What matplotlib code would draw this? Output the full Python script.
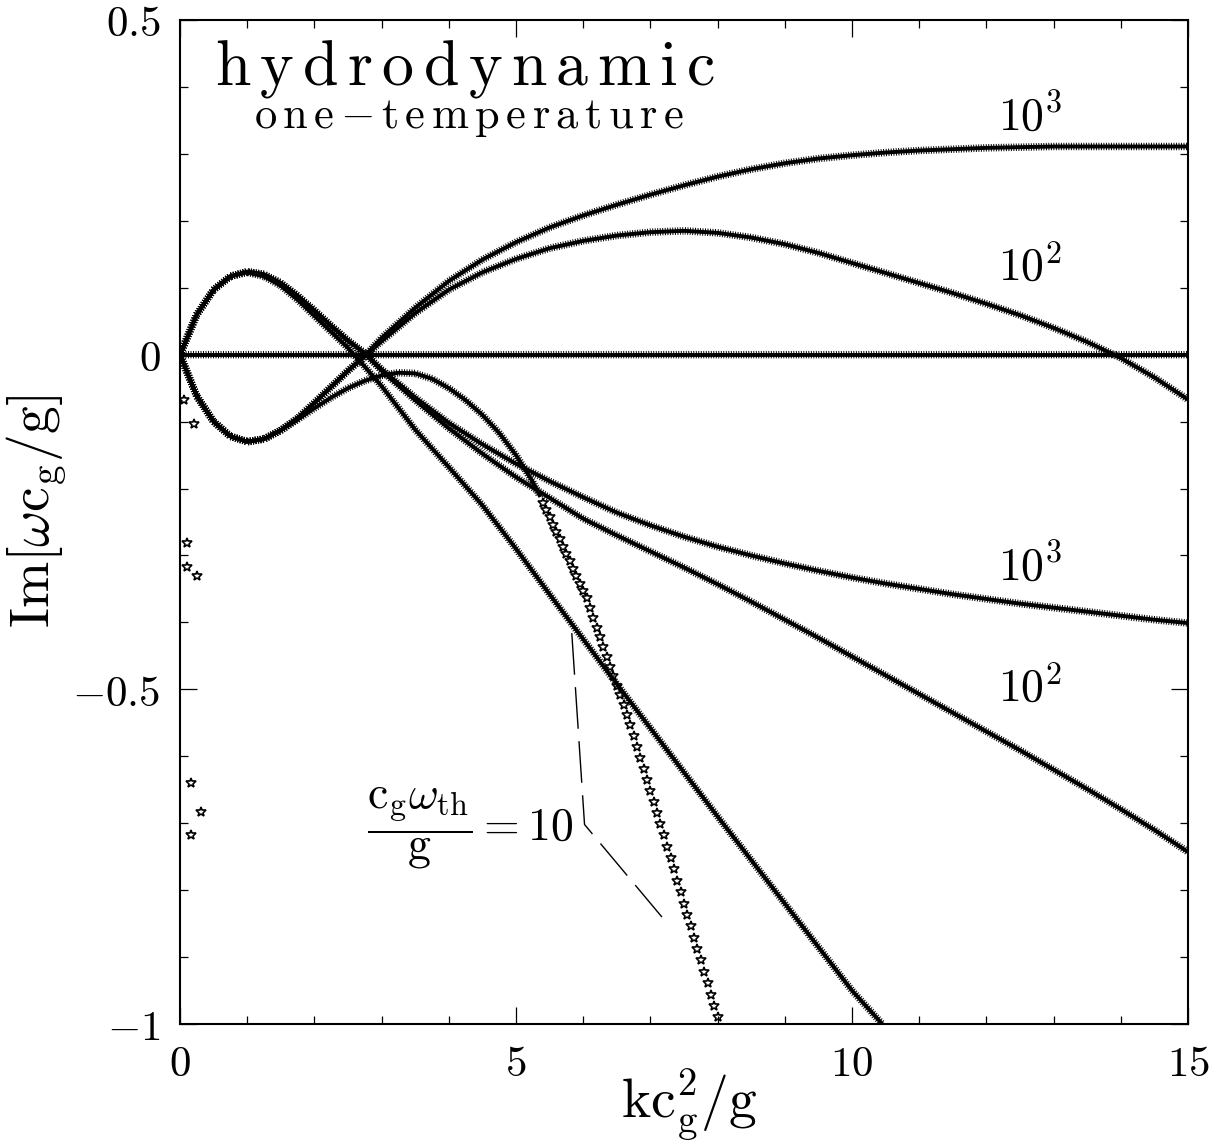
import matplotlib.pyplot as plt
import matplotlib.patheffects as pe
from matplotlib.ticker import MultipleLocator

plt.rcParams['mathtext.fontset'] = 'cm'
plt.rcParams['font.family'] = ['DejaVu Serif']

# loops near k = 0, shared by the 10^2 and 10^3 branches
k_loop = [0.0, 0.25, 0.5, 0.75, 1.0, 1.25, 1.5, 1.75, 2.0, 2.25, 2.5, 2.75]
im_loop_upper = [0.0, 0.06, 0.097, 0.117, 0.124, 0.12, 0.107, 0.088, 0.066, 0.043, 0.021, 0.002]
im_loop_lower = [0.0, -0.062, -0.1, -0.122, -0.13, -0.126, -0.113, -0.095, -0.072, -0.048, -0.024, -0.002]

# branches past the crossing at k ~ 2.8
k_tail = [3.0, 3.5, 4.0, 4.5, 5.0, 5.5, 6.0, 6.5, 7.0, 7.5, 8.0, 8.5, 9.0, 9.5,
          10.0, 10.5, 11.0, 11.5, 12.0, 12.5, 13.0, 13.5, 14.0, 14.5, 15.0]
im_1e3_rise = [0.025, 0.07, 0.11, 0.142, 0.168, 0.19, 0.208, 0.224, 0.239, 0.253, 0.266, 0.277, 0.286,
               0.293, 0.298, 0.302, 0.305, 0.307, 0.309, 0.31, 0.311, 0.311, 0.311, 0.311, 0.311]
im_1e2_rise = [0.02, 0.062, 0.097, 0.123, 0.143, 0.159, 0.17, 0.178, 0.183, 0.185, 0.182, 0.175, 0.165,
               0.152, 0.137, 0.122, 0.107, 0.092, 0.076, 0.059, 0.04, 0.019, -0.005, -0.034, -0.067]
im_1e3_fall = [-0.022, -0.064, -0.102, -0.134, -0.163, -0.189, -0.213, -0.236, -0.255, -0.272, -0.287,
               -0.3, -0.312, -0.323, -0.333, -0.342, -0.35, -0.358, -0.365, -0.372, -0.378, -0.384,
               -0.39, -0.396, -0.401]
im_1e2_fall = [-0.024, -0.068, -0.11, -0.148, -0.183, -0.214, -0.245, -0.27, -0.294, -0.318, -0.343,
               -0.369, -0.396, -0.423, -0.451, -0.479, -0.507, -0.535, -0.563, -0.591, -0.62, -0.649,
               -0.679, -0.71, -0.743]

# c_g w_th / g = 10 branches
k_10_fall = [0.0, 0.25, 0.5, 0.75, 1.0, 1.25, 1.5, 1.75, 2.0, 2.25, 2.5, 2.75,
             3.0, 3.5, 4.0, 4.5, 5.0, 5.5, 6.0, 6.5, 7.0, 7.5, 8.0, 8.5, 9.0, 9.5, 10.0, 10.45]
im_10_fall = [0.0, 0.06, 0.097, 0.117, 0.123, 0.117, 0.103, 0.082, 0.058, 0.034, 0.01, -0.018,
              -0.047, -0.112, -0.168, -0.225, -0.29, -0.358, -0.425, -0.492, -0.558, -0.624,
              -0.69, -0.755, -0.82, -0.885, -0.95, -1.0]
k_10_bump = [0.0, 0.25, 0.5, 0.75, 1.0, 1.25, 1.5, 1.75, 2.0, 2.25, 2.5, 2.75,
             3.0, 3.25, 3.5, 3.75, 4.0, 4.25, 4.5, 4.75, 5.0, 5.25, 5.35]
im_10_bump = [0.0, -0.062, -0.1, -0.122, -0.13, -0.126, -0.113, -0.097, -0.08, -0.064, -0.05, -0.039,
              -0.031, -0.027, -0.028, -0.036, -0.05, -0.068, -0.09, -0.117, -0.15, -0.19, -0.21]
# steep part of the bump branch, one root every 0.05 in k
k_10_steep = [5.40, 5.45, 5.50, 5.55, 5.60, 5.65, 5.70, 5.75, 5.80, 5.85, 5.90, 5.95, 6.00,
              6.05, 6.10, 6.15, 6.20, 6.25, 6.30, 6.35, 6.40, 6.45, 6.50, 6.55, 6.60, 6.65,
              6.70, 6.75, 6.80, 6.85, 6.90, 6.95, 7.00, 7.05, 7.10, 7.15, 7.20, 7.25, 7.30,
              7.35, 7.40, 7.45, 7.50, 7.55, 7.60, 7.65, 7.70, 7.75, 7.80, 7.85, 7.90, 7.95, 8.00]
im_10_steep = [-0.221, -0.232, -0.243, -0.254, -0.265, -0.276, -0.287, -0.298, -0.309, -0.32,
               -0.331, -0.342, -0.353, -0.364, -0.378, -0.393, -0.408, -0.422, -0.437, -0.451,
               -0.466, -0.48, -0.495, -0.509, -0.524, -0.538, -0.553, -0.569, -0.586, -0.602,
               -0.619, -0.635, -0.652, -0.668, -0.685, -0.701, -0.718, -0.735, -0.752, -0.769,
               -0.786, -0.803, -0.82, -0.837, -0.854, -0.871, -0.888, -0.905, -0.922, -0.939,
               -0.956, -0.973, -0.99]

# neutral modes
k_zero = [0.0, 15.0]
im_zero = [0.0, 0.0]

# scattered roots close to k = 0
k_stray = [0.06, 0.21, 0.11, 0.11, 0.26, 0.16, 0.31, 0.16]
im_stray = [-0.068, -0.103, -0.282, -0.317, -0.331, -0.64, -0.684, -0.718]

# pointer from the label to the 10 branches
pointer_k = [5.83, 6.02, 7.27]
pointer_im = [-0.416, -0.702, -0.852]

curve_labels = [(12.65, 0.355, r'$10^3$'), (12.65, 0.13, r'$10^2$'),
                (12.65, -0.318, r'$10^3$'), (12.65, -0.5, r'$10^2$')]

band_fx = [pe.TickedStroke(spacing=1.8, angle=95, length=1.3, linewidth=0.7),
           pe.TickedStroke(spacing=1.8, angle=-95, length=1.3, linewidth=0.7),
           pe.Normal()]

fig = plt.figure(figsize=(12.21, 11.42), dpi=100)
ax = fig.add_axes([180 / 1221, 1 - 1024 / 1142, 1008 / 1221, 1004 / 1142])


def band(x, y):
    ax.plot(x, y, color='black', lw=2.8, solid_joinstyle='round', path_effects=band_fx)


band(k_zero, im_zero)
band(k_loop + k_tail, im_loop_lower + im_1e3_rise)
band(k_loop + k_tail, im_loop_lower + im_1e2_rise)
band(k_loop + k_tail, im_loop_upper + im_1e3_fall)
band(k_loop + k_tail, im_loop_upper + im_1e2_fall)
band(k_10_fall, im_10_fall)
band(k_10_bump, im_10_bump)
ax.plot(k_10_steep, im_10_steep, ls='none', marker='*', ms=7, color='black',
        mfc='none', mew=1.2)
ax.plot(k_stray, im_stray, ls='none', marker='*', ms=7, color='black', mfc='none', mew=1.2)

ax.plot(pointer_k, pointer_im, color='black', lw=1.0, ls=(0, (30, 9)))

for kx, iy, txt in curve_labels:
    ax.text(kx, iy, txt, fontsize=33, ha='center', va='center')

ax.text(5.85, -0.707, r'$\dfrac{\mathrm{c_g}\omega_{\mathrm{th}}}{\mathrm{g}}=10$',
        fontsize=33, ha='right', va='center')

fig.text(215 / 1221, 1 - 85 / 1142, r'$\mathrm{h\,y\,d\,r\,o\,d\,y\,n\,a\,m\,i\,c}$',
         fontsize=46, ha='left', va='baseline')
fig.text(254 / 1221, 1 - 128 / 1142,
         r'$\mathrm{o\,n\,e\,{-}\,t\,e\,m\,p\,e\,r\,a\,t\,u\,r\,e}$',
         fontsize=32, ha='left', va='baseline')

ax.set_xlim(0, 15)
ax.set_ylim(-1, 0.5)
ax.set_xticks([0, 5, 10, 15])
ax.set_xticklabels([r'$0$', r'$5$', r'$10$', r'$15$'])
ax.set_yticks([-1, -0.5, 0, 0.5])
ax.set_yticklabels([r'$-1$', r'$-0.5$', r'$0$', r'$0.5$'])
ax.xaxis.set_minor_locator(MultipleLocator(1))
ax.yaxis.set_minor_locator(MultipleLocator(0.1))
ax.tick_params(which='both', direction='in', top=True, right=True, width=0.9, labelsize=31, pad=14)
ax.tick_params(which='major', length=12)
ax.tick_params(which='minor', length=6)
for s in ax.spines.values():
    s.set_linewidth(1.5)

fig.text(689 / 1221, 1 - 1105 / 1142, r'$\mathrm{kc_g^2/g}$', fontsize=40, ha='center', va='center')
fig.text(37 / 1221, 1 - 512 / 1142, r'$\mathrm{Im}[\omega\mathrm{c_g/g}]$', fontsize=40,
         ha='center', va='center', rotation=90)

fig.savefig('out.png', dpi=100)
